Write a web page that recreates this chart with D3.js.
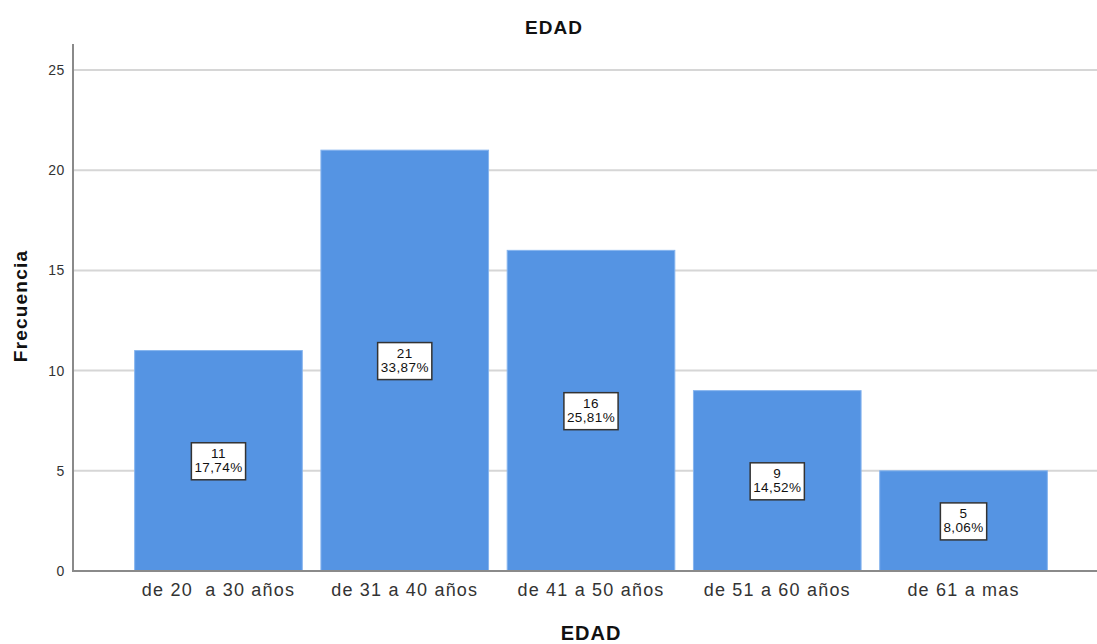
<!DOCTYPE html>
<html>
<head>
<meta charset="utf-8">
<script src="https://cdn.jsdelivr.net/npm/d3@7"></script>
<style>
  html, body { margin: 0; padding: 0; background: #fff; }
  svg { display: block; font-family: "Liberation Sans", Arial, sans-serif; }
</style>
</head>
<body>
<svg id="chart" width="1097" height="644"></svg>
<script>
// Age groups and their frequencies
const categories = ["de 20  a 30 años", "de 31 a 40 años", "de 41 a 50 años", "de 51 a 60 años", "de 61 a mas"];
const counts = [11, 21, 16, 9, 5];
const percents = ["17,74%", "33,87%", "25,81%", "14,52%", "8,06%"];
const yTicks = [0, 5, 10, 15, 20, 25];

const svg = d3.select("#chart");
const plotLeft = 73, plotRight = 1109, plotTop = 44, plotBottom = 571;

const x = d3.scaleBand()
  .domain(categories)
  .range([plotLeft, plotRight])
  .paddingInner(0.1)
  .paddingOuter(0.331);

const y = d3.scaleLinear()
  .domain([0, 25])
  .range([plotBottom, 70]);

// Horizontal gridlines
svg.append("g")
  .selectAll("line")
  .data(yTicks.filter(d => d > 0))
  .join("line")
  .attr("x1", plotLeft).attr("x2", 1097)
  .attr("y1", d => y(d)).attr("y2", d => y(d))
  .attr("stroke", "#d6d6d6")
  .attr("stroke-width", 2);

// Bars
svg.append("g")
  .selectAll("rect")
  .data(categories)
  .join("rect")
  .attr("x", d => x(d))
  .attr("width", x.bandwidth())
  .attr("y", (d, i) => y(counts[i]))
  .attr("height", (d, i) => y(0) - y(counts[i]))
  .attr("fill", "#5594e3")
  .attr("stroke", "#86b4ee")
  .attr("stroke-width", 1);

// Y axis
const yAxis = svg.append("g")
  .attr("transform", `translate(${plotLeft},0)`)
  .call(d3.axisLeft(y).tickValues(yTicks).tickSize(0).tickPadding(8));
yAxis.select(".domain").remove();
yAxis.selectAll("text")
  .attr("font-size", 14)
  .attr("letter-spacing", 0.6)
  .attr("fill", "#333")
  .attr("font-family", "Liberation Sans, Arial, sans-serif");

svg.append("line")
  .attr("x1", plotLeft).attr("x2", plotLeft)
  .attr("y1", plotTop).attr("y2", plotBottom + 1)
  .attr("stroke", "#8a8a8a").attr("stroke-width", 2);

// X axis
const xAxis = svg.append("g")
  .attr("transform", `translate(0,${plotBottom})`)
  .call(d3.axisBottom(x).tickSize(0).tickPadding(12));
xAxis.select(".domain").remove();
xAxis.selectAll("text")
  .attr("font-size", 18)
  .attr("letter-spacing", 1.2)
  .attr("fill", "#333")
  .attr("font-family", "Liberation Sans, Arial, sans-serif")
  .style("white-space", "pre");

svg.append("line")
  .attr("x1", plotLeft - 1).attr("x2", 1097)
  .attr("y1", plotBottom).attr("y2", plotBottom)
  .attr("stroke", "#8a8a8a").attr("stroke-width", 2);

// Value labels: count and percentage in a framed box at mid-height of each bar
const labels = svg.append("g")
  .selectAll("g")
  .data(categories)
  .join("g")
  .attr("transform", (d, i) => `translate(${x(d) + x.bandwidth() / 2},${y(counts[i] / 2)})`);

labels.each(function (d, i) {
  const g = d3.select(this);
  const rect = g.append("rect");
  const t1 = g.append("text")
    .attr("text-anchor", "middle")
    .attr("y", -3)
    .attr("font-size", 13.5)
    .attr("letter-spacing", 0.4)
    .attr("fill", "#111")
    .text(counts[i]);
  const t2 = g.append("text")
    .attr("text-anchor", "middle")
    .attr("y", 11)
    .attr("font-size", 13.5)
    .attr("letter-spacing", 0.4)
    .attr("fill", "#111")
    .text(percents[i]);
  const w = Math.max(t1.node().getComputedTextLength(), t2.node().getComputedTextLength()) + 6;
  rect.attr("x", -w / 2).attr("y", -18).attr("width", w).attr("height", 37)
    .attr("fill", "#fff").attr("stroke", "#333").attr("stroke-width", 1.5);
});

// Titles
svg.append("text")
  .attr("x", 554).attr("y", 34)
  .attr("text-anchor", "middle")
  .attr("font-size", 19).attr("letter-spacing", 1).attr("font-weight", "bold").attr("fill", "#111")
  .text("EDAD");

svg.append("text")
  .attr("x", 591).attr("y", 640)
  .attr("text-anchor", "middle")
  .attr("font-size", 20).attr("letter-spacing", 1).attr("font-weight", "bold").attr("fill", "#111")
  .text("EDAD");

svg.append("text")
  .attr("transform", "translate(27,306) rotate(-90)")
  .attr("text-anchor", "middle")
  .attr("font-size", 19).attr("letter-spacing", 1.2).attr("font-weight", "bold").attr("fill", "#111")
  .text("Frecuencia");
</script>
</body>
</html>
